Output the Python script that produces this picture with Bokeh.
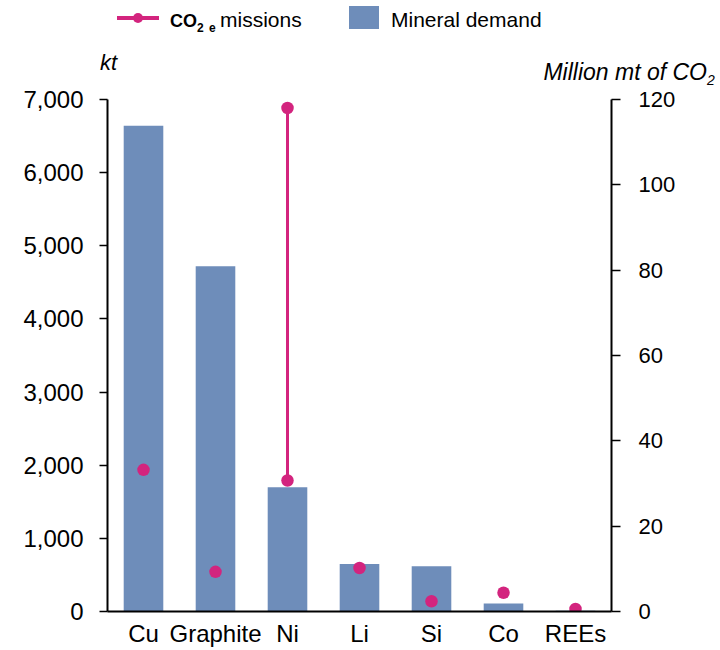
from bokeh.plotting import figure
from bokeh.models import (ColumnDataSource, Range1d, LinearAxis, FixedTicker,
                          NumeralTickFormatter, FactorRange, Div)
from bokeh.layouts import column
from bokeh.embed import file_html
from bokeh.resources import INLINE

# ---- data ----
minerals = ["Cu", "Graphite", "Ni", "Li", "Si", "Co", "REEs"]
demand_kt = [6640, 4720, 1700, 650, 620, 110, 10]
co2_low = [33.2, 9.3, 30.7, 10.2, 2.4, 4.4, 0.6]
co2_high = [None, None, 118.0, None, None, None, None]
left_ticks = [0, 1000, 2000, 3000, 4000, 5000, 6000, 7000]
right_ticks = [0, 20, 40, 60, 80, 100, 120]
legend_line_label = ("CO", "2", "e", "missions")
legend_bar_label = "Mineral demand"
left_title = "kt"
right_title = ("Million mt of CO", "2")

BAR = "#6E8DBA"
DOT = "#D3247E"
FONT = "Liberation Sans"
HEAD = 85

# ---- header (legend + axis titles) ----
def span(txt, left=None, right=None, top=0, size=21, lh=None, weight="normal", style="normal"):
    pos = f"left:{left}px;" if left is not None else f"right:{right}px;"
    lh = size if lh is None else lh
    return (f'<span style="position:absolute;{pos}top:{top}px;font-size:{size}px;'
            f'line-height:{lh}px;font-weight:{weight};font-style:{style};'
            f'white-space:nowrap;">{txt}</span>')

html = (
    f'<div style="position:relative;width:720px;height:{HEAD}px;overflow:visible;'
    f"font-family:'{FONT}',Arial,sans-serif;color:#000;\">"
    f'<div style="position:absolute;left:117px;top:16px;width:42px;height:4px;background:{DOT};"></div>'
    f'<div style="position:absolute;left:133px;top:13px;width:10px;height:10px;border-radius:50%;background:{DOT};"></div>'
    + span(legend_line_label[0], left=170, top=11.8, size=18, weight="bold")
    + span(legend_line_label[1], left=197, top=21.8, size=12, weight="bold")
    + span(legend_line_label[2], left=209, top=21.8, size=12, weight="bold")
    + span(legend_line_label[3], left=220, top=9.2, size=21)
    + f'<div style="position:absolute;left:349px;top:6px;width:30px;height:23px;background:{BAR};"></div>'
    + span(legend_bar_label, left=391, top=9.2, size=21)
    + span(left_title, left=100, top=52.4, size=22, style="italic")
    + span(right_title[0], right=720 - 707, top=60.6, size=23, style="italic")
    + span(right_title[1], left=707, top=74.5, size=14, lh=10, style="italic")
    + '</div>'
)
head = Div(text=html, width=720, height=HEAD, margin=(0, 0, 0, 0))

# ---- main chart ----
p = figure(x_range=FactorRange(*minerals), y_range=Range1d(0, 7000), title=None,
           width=720, height=650 - HEAD, output_backend="svg", toolbar_location=None,
           min_border_top=99 - HEAD, min_border_left=107, min_border_right=109,
           min_border_bottom=39, margin=(0, 0, 0, 0))
p.extra_y_ranges = {"co2": Range1d(0, 120)}
p.outline_line_color = None
p.xgrid.visible = False
p.ygrid.visible = False

src = ColumnDataSource(dict(x=minerals, y=demand_kt))
p.vbar(x="x", top="y", width=0.55, source=src, fill_color=BAR, line_color=None)

rng_x = [m for m, h in zip(minerals, co2_high) if h is not None]
rng_lo = [l for l, h in zip(co2_low, co2_high) if h is not None]
rng_hi = [h for h in co2_high if h is not None]
p.segment(x0=rng_x, y0=rng_lo, x1=rng_x, y1=rng_hi, y_range_name="co2",
          line_color=DOT, line_width=3)
p.scatter(x=minerals, y=co2_low, y_range_name="co2", size=12.5,
          fill_color=DOT, line_color=None)
p.scatter(x=rng_x, y=rng_hi, y_range_name="co2", size=12.5,
          fill_color=DOT, line_color=None)

# axes
xa = p.xaxis[0]
xa.axis_line_width = 2
xa.axis_line_color = "black"
xa.major_tick_line_color = None
xa.minor_tick_line_color = None
xa.major_label_text_font = FONT
xa.major_label_text_font_size = "24px"
xa.major_label_text_color = "black"
xa.major_label_standoff = 2

ya = p.yaxis[0]
ya.ticker = FixedTicker(ticks=left_ticks)
ya.formatter = NumeralTickFormatter(format="0,0")
ya.axis_line_width = 2
ya.axis_line_color = "black"
ya.major_tick_out = 8
ya.major_tick_in = 0
ya.major_tick_line_width = 1.5
ya.minor_tick_line_color = None
ya.major_label_text_font = FONT
ya.major_label_text_font_size = "24px"
ya.major_label_text_color = "black"
ya.major_label_standoff = 16

ra = LinearAxis(y_range_name="co2", ticker=FixedTicker(ticks=right_ticks))
ra.axis_line_width = 2
ra.axis_line_color = "black"
ra.major_tick_out = 9
ra.major_tick_in = 0
ra.major_tick_line_width = 1.5
ra.minor_tick_line_color = None
ra.major_label_text_font = FONT
ra.major_label_text_font_size = "22px"
ra.major_label_text_color = "black"
ra.major_label_standoff = 18
p.add_layout(ra, "right")

layout = column(head, p, spacing=0)
open("out.html", "w").write(file_html(layout, INLINE))
